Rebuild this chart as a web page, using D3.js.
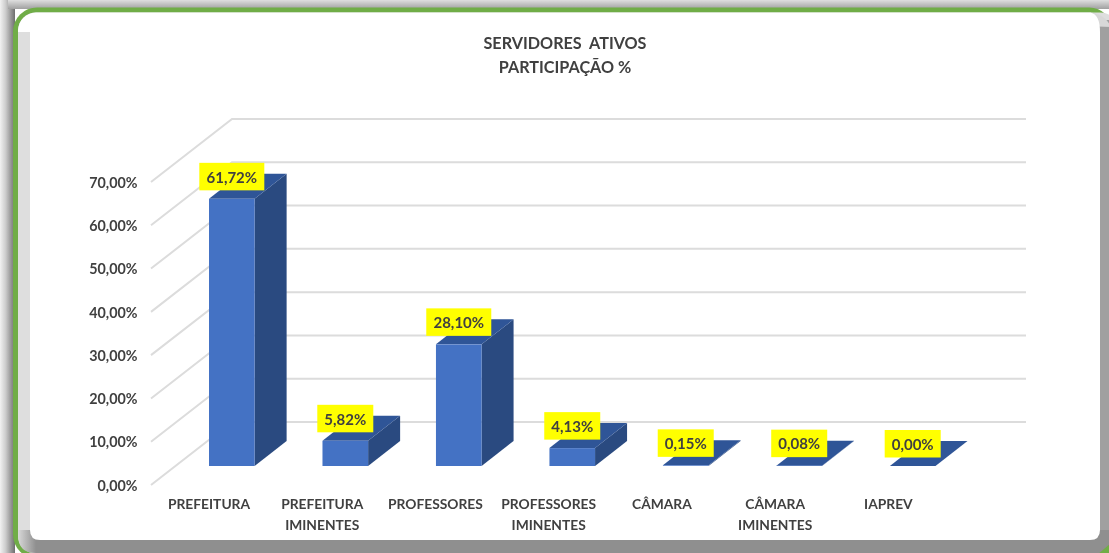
<!DOCTYPE html>
<html>
<head>
<meta charset="utf-8">
<script src="https://cdn.jsdelivr.net/npm/d3@7"></script>
<style>
  html, body { margin: 0; padding: 0; background: #fff; }
  svg { display: block; }
  text { font-family: Lato, "Open Sans", sans-serif; font-weight: 700; fill: #404040; }
</style>
</head>
<body>
<div id="chart"></div>
<script>
// values
var categories = ["PREFEITURA", "PREFEITURA|IMINENTES", "PROFESSORES", "PROFESSORES|IMINENTES", "CÂMARA", "CÂMARA|IMINENTES", "IAPREV"];
var values = [61.72, 5.82, 28.10, 4.13, 0.15, 0.08, 0.00];
var valueLabels = ["61,72%", "5,82%", "28,10%", "4,13%", "0,15%", "0,08%", "0,00%"];
var yTicks = [0, 10, 20, 30, 40, 50, 60, 70];
var titleLines = ["SERVIDORES  ATIVOS", "PARTICIPAÇÃO %"];

var svgWidth = 1109;
var svgHeight = 553;

var svg = d3.select("#chart")
    .append("svg")
    .attr("width", svgWidth)
    .attr("height", svgHeight);

// gradients for the frame shadow
var defs = svg.append("defs");
function gradient(id, x2, y2, stops) {
    var g = defs.append("linearGradient").attr("id", id)
        .attr("x1", 0).attr("y1", 0).attr("x2", x2).attr("y2", y2);
    stops.forEach(function (s) {
        g.append("stop").attr("offset", s[0]).attr("stop-color", s[1]);
    });
}
gradient("shadowLeft", 1, 0, [[0, "#ffffff"], [0.45, "#cccccc"], [1, "#6e6e6e"]]);
gradient("shadowTop", 0, 1, [[0, "#ececec"], [1, "#a0a0a0"]]);
gradient("stripBottom", 1, 0, [[0, "#d8d8d8"], [1, "#8f8f8f"]]);

// soft edges, the reference is a scaled screenshot
defs.append("filter").attr("id", "soft")
    .append("feGaussianBlur").attr("stdDeviation", 0.4);

// frame: outer shadow, green rounded border, grey inner bevel, white panel
var frame = svg.append("g").attr("filter", "url(#soft)");
frame.append("rect").attr("x", -2).attr("y", 0).attr("width", 17).attr("height", svgHeight + 2).attr("fill", "url(#shadowLeft)");
frame.append("rect").attr("x", 8).attr("y", -2).attr("width", svgWidth - 6).attr("height", 11).attr("fill", "url(#shadowTop)");
frame.append("rect").attr("x", 13).attr("y", 7.5).attr("width", 1100).attr("height", 551)
    .attr("rx", 24).attr("fill", "#70ad47");
frame.append("rect").attr("x", 18).attr("y", 12.5).attr("width", 1100).attr("height", 541)
    .attr("rx", 18).attr("fill", "#dedede");
frame.append("rect").attr("x", 1085).attr("y", 20).attr("width", 26).attr("height", 525).attr("fill", "#a0a0a0");
frame.append("path").attr("d", "M1111,27 Q1105,14 1090,12.5 L1085,26 Z").attr("fill", "#d8d8d8");
frame.append("rect").attr("x", 36).attr("y", 530).attr("width", 1075).attr("height", 25).attr("fill", "#8f8f8f");
frame.append("path").attr("d", "M18,530 H36 V553 Q18,553 18,535 Z").attr("fill", "url(#stripBottom)");
frame.append("path").attr("d", "M1111,555 V543 L1097,555 Z").attr("fill", "#70ad47");
frame.append("path")
    .attr("d", "M40,12.5 H1090 Q1100,14 1100,32 V530 Q1100,540 1090,540 H40 Q30,540 30,530 V32 H18 V30 Q20,14 36,12.5 Z")
    .attr("fill", "#ffffff");

// depth of the 3d chart, back wall is shifted from the front
var depthX = 81;
var depthY = 63;
var barDepthX = 32;
var barDepthY = 25;

// y scale for the front edge of the left wall
var yFront = d3.scaleLinear().domain([0, 70]).range([485, 182]);
var yBack = function (v) { return yFront(v) - depthY; };
var wallLeft = 151;
var wallRight = 1026;
var barBase = 466;

// x scale for the bar fronts
var x = d3.scaleBand()
    .domain(categories)
    .range([209, 935.5])
    .paddingInner(0.598)
    .paddingOuter(0);

// height of a bar in pixels
var barH = function (v) { return yFront(0) - yFront(v); };

// gridlines, back wall plus left wall
var grid = svg.append("g").attr("fill", "none").attr("stroke", "#dcdcdc").attr("stroke-width", 2);
grid.selectAll("path")
    .data(yTicks)
    .enter()
    .append("path")
    .attr("d", d => `M${wallLeft},${yFront(d)} L${wallLeft + depthX},${yBack(d)} H${wallRight}`);

// y axis
var leftAxis = d3.axisLeft(yFront)
    .tickValues(yTicks)
    .tickSize(0)
    .tickPadding(0)
    .tickFormat(d => d3.format(".2f")(d).replace(".", ",") + "%");
var yAxis = svg.append("g")
    .attr("transform", "translate(137.5, 0.7)")
    .attr("filter", "url(#soft)")
    .call(leftAxis);
yAxis.select(".domain").remove();
yAxis.selectAll("text")
    .style("font-size", "14.3px")
    .style("font-family", "Lato, 'Open Sans', sans-serif");

// bars: side, top, front
var bars = svg.selectAll(".bar")
    .data(values)
    .enter()
    .append("g")
    .attr("class", "bar");

var bx = (d, i) => x(categories[i]);
var bw = x.bandwidth();

bars.append("path")
    .attr("fill", "#2a4a80")
    .attr("d", (d, i) => `M${bx(d, i) + bw},${barBase} l${barDepthX},${-barDepthY} v${-barH(d)} l${-barDepthX},${barDepthY} Z`);
bars.append("path")
    .attr("fill", "#2f5597")
    .attr("d", (d, i) => `M${bx(d, i)},${barBase - barH(d)} l${barDepthX},${-barDepthY} h${bw} l${-barDepthX},${barDepthY} Z`);
bars.append("rect")
    .attr("fill", "#4472c4")
    .attr("x", (d, i) => bx(d, i))
    .attr("y", d => barBase - barH(d))
    .attr("width", bw)
    .attr("height", d => barH(d));

// yellow data labels
var labels = svg.selectAll(".value-label")
    .data(values)
    .enter()
    .append("g")
    .attr("class", "value-label")
    .attr("transform", (d, i) => `translate(${bx(d, i) + bw / 2}, ${barBase - barH(d) - 22})`);

labels.append("rect")
    .attr("x", (d, i) => valueLabels[i].length > 5 ? -32.5 : -28)
    .attr("y", -14)
    .attr("width", (d, i) => valueLabels[i].length > 5 ? 65 : 56)
    .attr("height", 27.5)
    .attr("fill", "#ffff00");
labels.append("text")
    .attr("text-anchor", "middle")
    .attr("y", 0.5)
    .attr("dy", "0.35em")
    .attr("filter", "url(#soft)")
    .style("font-size", "15px")
    .text((d, i) => valueLabels[i]);

// category labels, their spacing is a bit tighter than the bars
var catLabels = svg.selectAll(".cat-label")
    .data(categories)
    .enter()
    .append("text")
    .attr("class", "cat-label")
    .attr("x", (d, i) => x(d) - i * 0.25)
    .attr("text-anchor", "middle")
    .attr("filter", "url(#soft)")
    .style("font-size", "13.8px");
catLabels.selectAll("tspan")
    .data(d => d.split("|"))
    .enter()
    .append("tspan")
    .attr("x", function () { return d3.select(this.parentNode).attr("x"); })
    .attr("y", (d, i) => 509 + i * 21)
    .text(d => d);

// title
svg.selectAll(".title")
    .data(titleLines)
    .enter()
    .append("text")
    .attr("class", "title")
    .attr("x", 565)
    .attr("y", (d, i) => 48.7 + i * 24)
    .attr("text-anchor", "middle")
    .attr("xml:space", "preserve")
    .attr("filter", "url(#soft)")
    .style("white-space", "pre")
    .style("font-size", "16.2px")
    .text(d => d);
</script>
</body>
</html>
